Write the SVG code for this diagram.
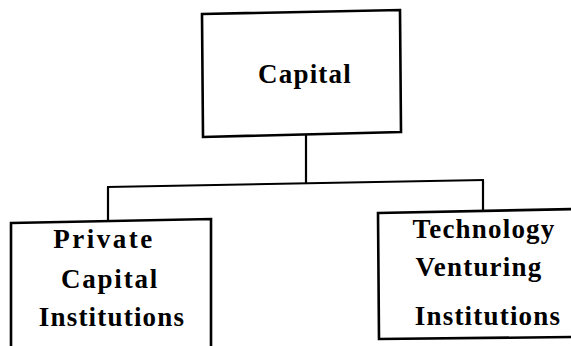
<svg xmlns="http://www.w3.org/2000/svg" width="571" height="346" viewBox="0 0 571 346">
<style>
.box{fill:#fff;stroke:#000;stroke-width:2.6;stroke-linejoin:miter}
.ln{fill:none;stroke:#000;stroke-width:2.2}
.t{font-family:"Liberation Serif","Times New Roman",serif;font-weight:bold;font-size:27px;letter-spacing:1.2px;text-anchor:middle;fill:#000}
</style>
<rect width="571" height="346" fill="#fff"/>
<g id="connectors">
<line class="ln" x1="306" y1="135" x2="306" y2="184"/>
<line class="ln" x1="107" y1="187" x2="484" y2="180"/>
<line class="ln" x1="108" y1="187" x2="108" y2="222"/>
<line class="ln" x1="483" y1="180" x2="483" y2="212"/>
</g>
<g id="capital">
<polygon class="box" points="202,14 400,10 401,132 203,137"/>
<text class="t" x="305" y="83">Capital</text>
</g>
<g id="private">
<polygon class="box" points="11,223 211,219 211,352 11,352"/>
<text class="t" x="104" y="248" style="letter-spacing:2.5px">Private</text>
<text class="t" x="110" y="288" style="letter-spacing:1.8px">Capital</text>
<text class="t" x="112" y="326">Institutions</text>
</g>
<g id="technology">
<polygon class="box" points="378,213 576,209 576,337 379,339"/>
<text class="t" x="484" y="238">Technology</text>
<text class="t" x="479" y="276">Venturing</text>
<text class="t" x="488" y="325">Institutions</text>
</g>
</svg>
